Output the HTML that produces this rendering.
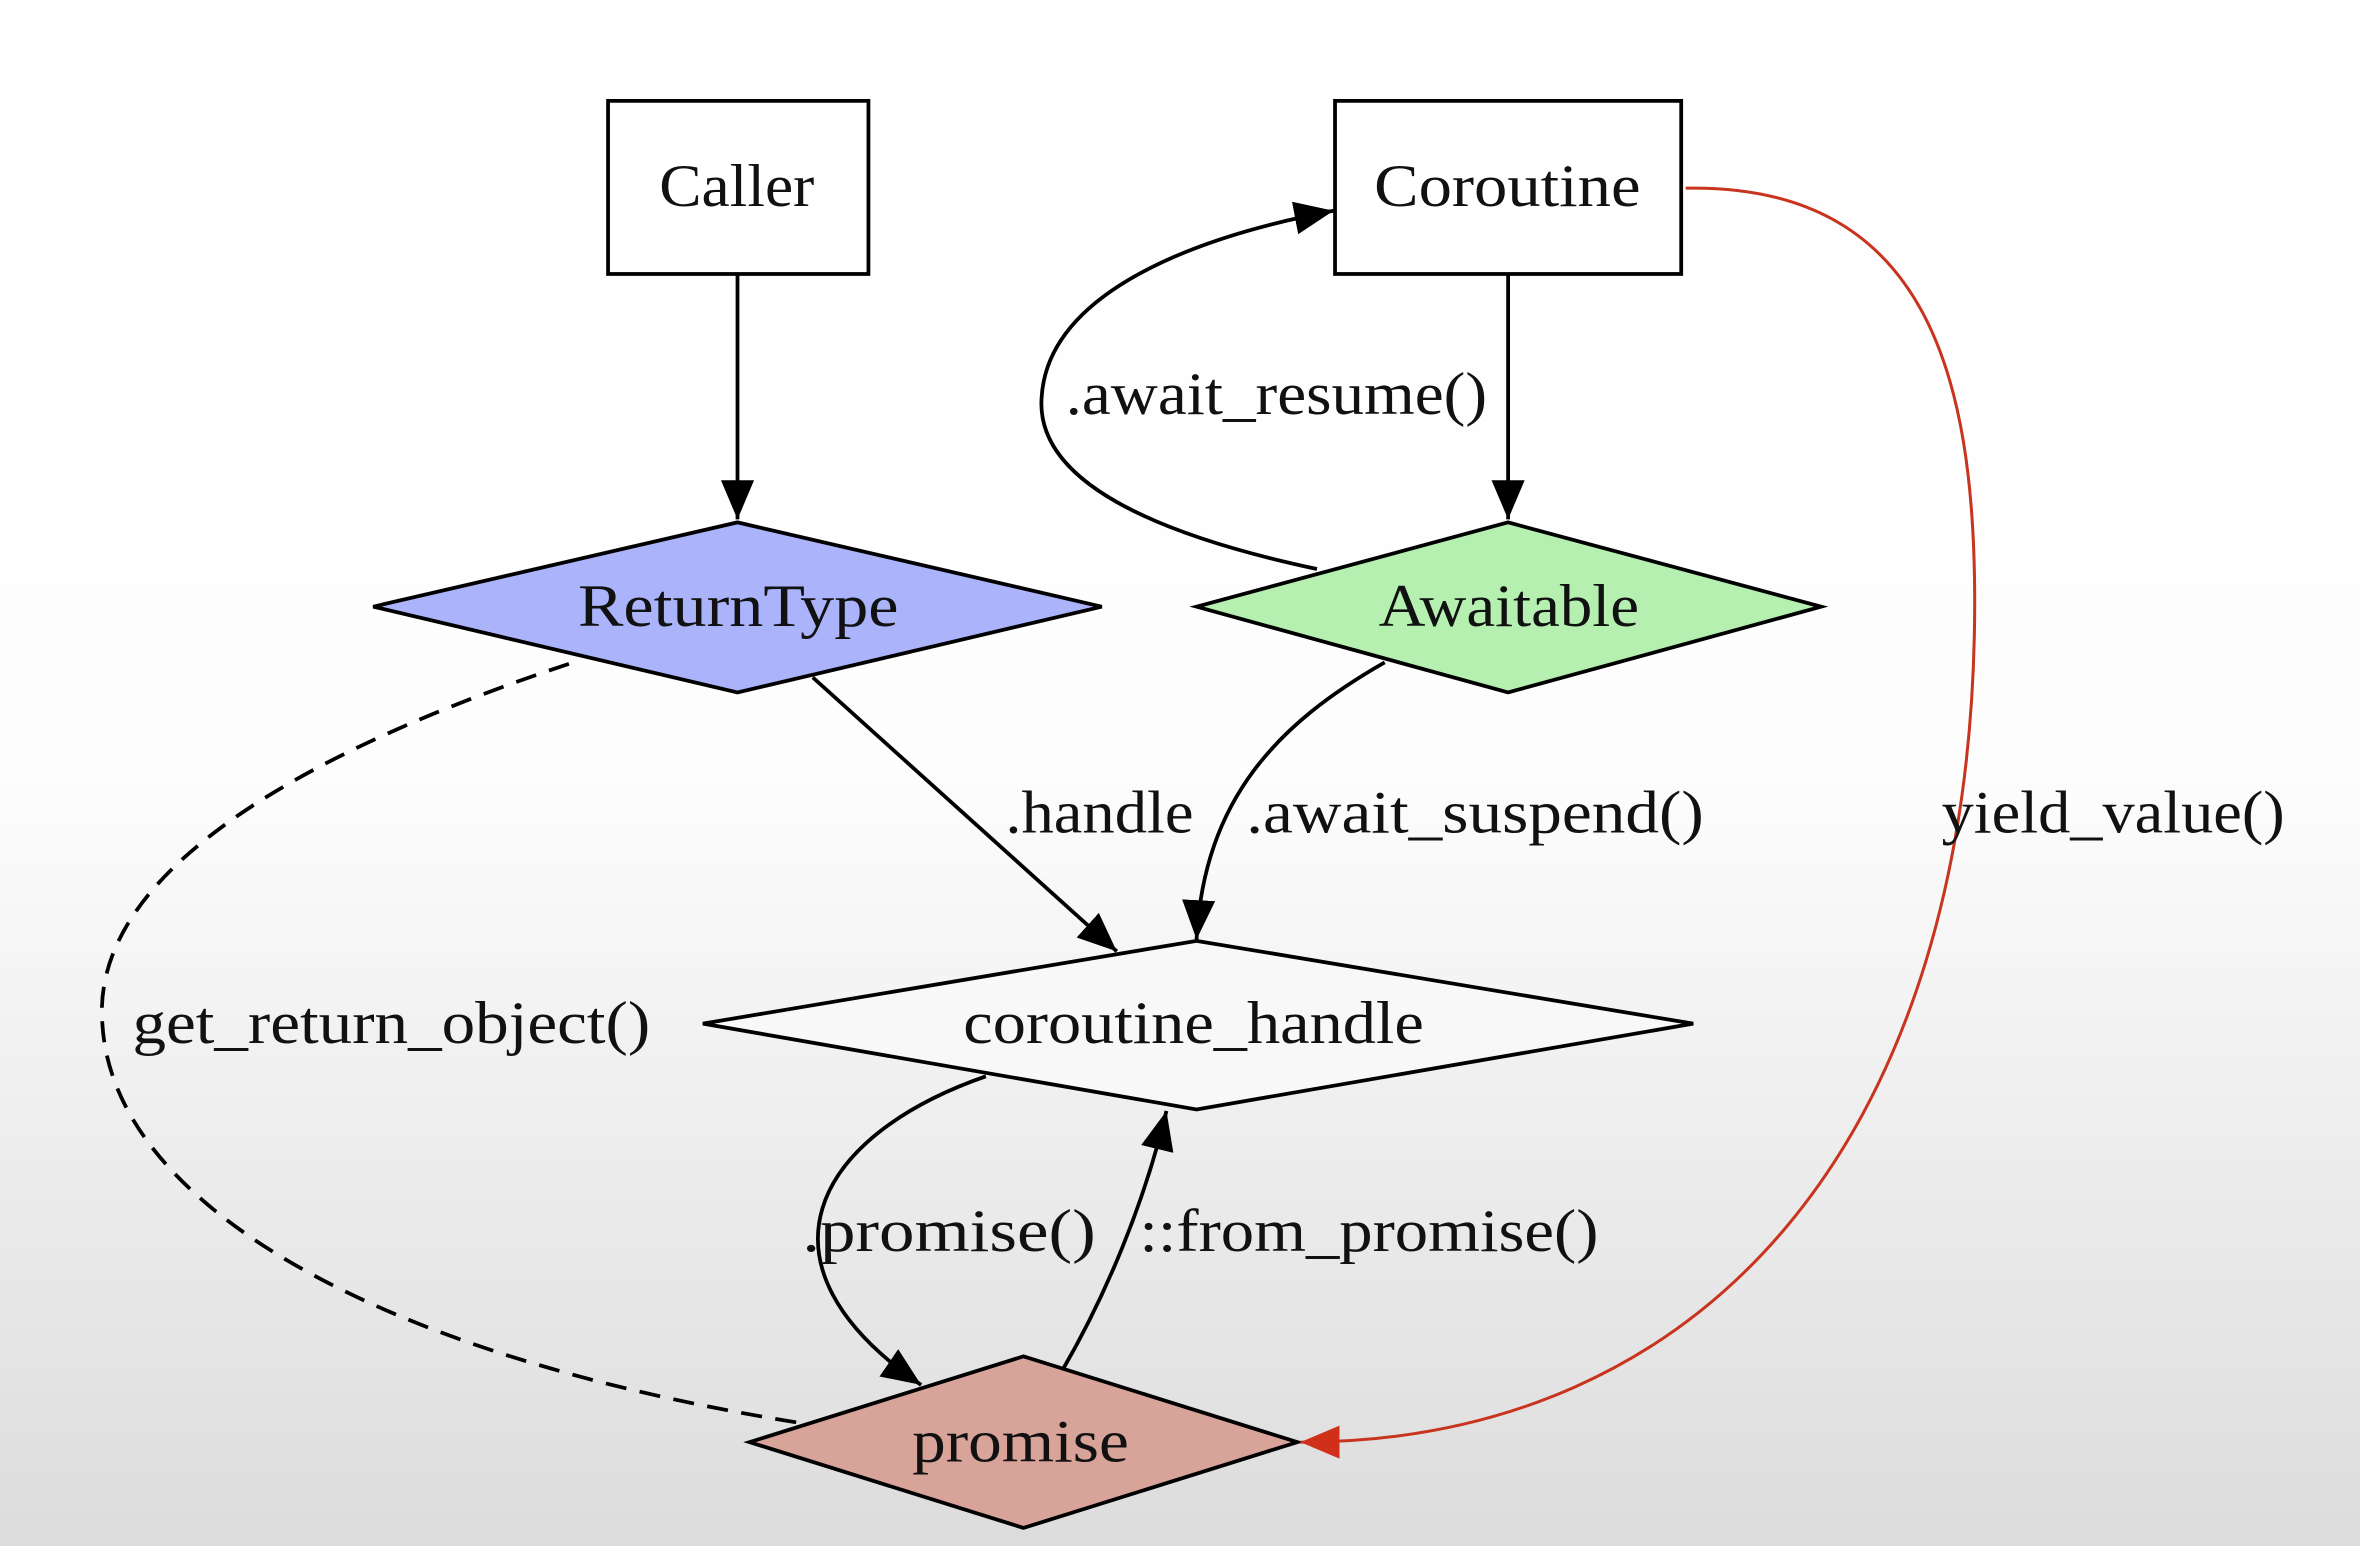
<!DOCTYPE html>
<html><head><meta charset="utf-8"><style>
html,body{margin:0;padding:0;width:2360px;height:1546px;overflow:hidden;background:#fff}
svg{display:block}
text{font-family:"Liberation Serif",serif;font-size:40px;fill:#111}
</style></head><body>
<svg width="2360" height="1546" viewBox="0 0 1568 1027" preserveAspectRatio="none">
<defs>
<linearGradient id="bg" x1="0" y1="0" x2="0" y2="1">
<stop offset="0" stop-color="#ffffff"/>
<stop offset="0.5" stop-color="#fdfdfd"/>
<stop offset="1" stop-color="#dcdcdc"/>
</linearGradient>
<marker id="a" markerUnits="userSpaceOnUse" markerWidth="30" markerHeight="30" refX="26" refY="11" orient="auto">
<path d="M0,0 L26,11 L0,22 Z" fill="#000"/></marker>
<marker id="r" markerUnits="userSpaceOnUse" markerWidth="30" markerHeight="30" refX="26" refY="11" orient="auto">
<path d="M0,0 L26,11 L0,22 Z" fill="#d0301a"/></marker>
</defs>
<rect width="1568" height="1027" fill="url(#bg)"/>
<g stroke="#000" stroke-width="2.5" fill="none">
<rect x="404" y="67" width="173" height="115" fill="#fff"/>
<rect x="887" y="67" width="230" height="115" fill="#fff"/>
<polygon points="248,403 490,347 732,403 490,460" fill="#abb4fb"/>
<polygon points="795,403 1002,347 1210,403 1002,460" fill="#b5f0b1"/>
<polygon points="467,680 795,625 1125,680 795,737" fill="#f8f8f8"/>
<polygon points="498,958 680,901 862,958 680,1015" fill="#d8a399"/>
<path d="M490,182 L490,345" marker-end="url(#a)"/>
<path d="M1002,182 L1002,345" marker-end="url(#a)"/>
<path d="M875,378 C720,345 690,300 692,265 C695,200 780,160 886,140" marker-end="url(#a)"/>
<path d="M540,450 L742,632" marker-end="url(#a)"/>
<path d="M920,440 C850,480 800,530 795,624" marker-end="url(#a)"/>
<path d="M655,715 C540,755 495,840 612,920" marker-end="url(#a)"/>
<path d="M706,910 C735,860 760,800 775,738" marker-end="url(#a)"/>
<path d="M378,441 C200,500 60,580 68,680 C75,800 250,900 530,945" stroke-dasharray="14,9"/>
<path d="M1120,125 C1280,122 1312,250 1312,400 C1312,760 1130,958 864,958" stroke="#c8341e" stroke-width="2" marker-end="url(#r)"/>
</g>
<g lengthAdjust="spacingAndGlyphs">
<text x="438" y="137" textLength="103" lengthAdjust="spacingAndGlyphs">Caller</text>
<text x="913" y="137" textLength="177" lengthAdjust="spacingAndGlyphs">Coroutine</text>
<text x="384" y="416" textLength="213" lengthAdjust="spacingAndGlyphs">ReturnType</text>
<text x="916" y="416" textLength="173" lengthAdjust="spacingAndGlyphs">Awaitable</text>
<text x="640" y="693" textLength="306" lengthAdjust="spacingAndGlyphs">coroutine_handle</text>
<text x="606" y="971" textLength="144" lengthAdjust="spacingAndGlyphs">promise</text>
<text x="708" y="275" textLength="280" lengthAdjust="spacingAndGlyphs">.await_resume()</text>
<text x="668" y="553" textLength="125" lengthAdjust="spacingAndGlyphs">.handle</text>
<text x="828" y="553" textLength="304" lengthAdjust="spacingAndGlyphs">.await_suspend()</text>
<text x="1290" y="553" textLength="228" lengthAdjust="spacingAndGlyphs">yield_value()</text>
<text x="88" y="693" textLength="344" lengthAdjust="spacingAndGlyphs">get_return_object()</text>
<text x="533" y="831" textLength="195" lengthAdjust="spacingAndGlyphs">.promise()</text>
<text x="757" y="831" textLength="305" lengthAdjust="spacingAndGlyphs">::from_promise()</text>
</g>
</svg>
</body></html>
